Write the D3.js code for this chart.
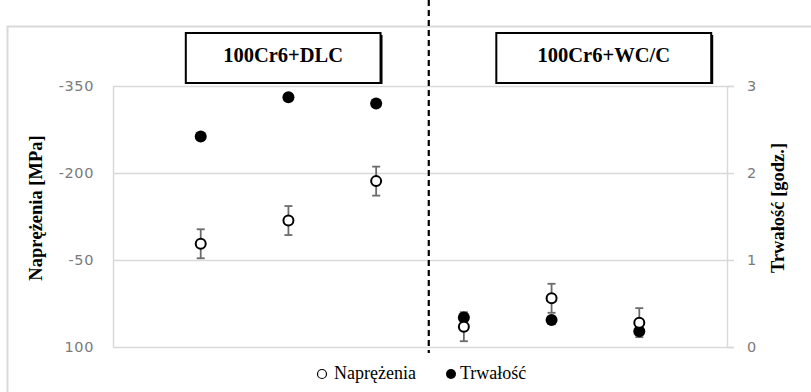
<!DOCTYPE html>
<html>
<head>
<meta charset="utf-8">
<script src="https://cdn.jsdelivr.net/npm/d3@7"></script>
<style>
  html, body { margin: 0; padding: 0; background: #fff; }
  svg { display: block; }
</style>
</head>
<body>
<script>
// Sample positions along the x axis (three per coating)
const samples = [1, 2, 3, 4, 5, 6];
// Residual stress [MPa] (left axis, negative = compressive)
const stress = [-78, -118, -186, 65, 16, 58];
const stressErr = [25, 25, 25, 25, 25, 25];
// Durability [hours] (right axis)
const durability = [2.42, 2.87, 2.80, 0.34, 0.31, 0.18];
// Axis ticks
const stressTicks = [-350, -200, -50, 100];
const durabilityTicks = [0, 1, 2, 3];
// Coating groups: label and x-extent of the heading box
const groups = ["100Cr6+DLC", "100Cr6+WC/C"];
const groupBoxes = [[0.83, 3.05], [4.37, 6.82]];
const dividerAt = 3.6;
const legendItems = ["Naprężenia", "Trwałość"];

const W = 811, H = 392;
const svg = d3.select("body").append("svg").attr("width", W).attr("height", H);

const x = d3.scaleLinear().domain([0, 7]).range([113, 727]);
const yL = d3.scaleLinear().domain([100, -350]).range([347, 86]);
const yR = d3.scaleLinear().domain([0, 3]).range([347, 86]);

const serif = "'Liberation Serif', 'Times New Roman', serif";
const sans = "'DejaVu Sans', Verdana, sans-serif";
const grid = "#d9d9d9";
const tickCol = "#7a7a7a";
const plainInt = d => String(d);   // keeps an ASCII hyphen for negatives

// Chart frame
svg.append("path")
  .attr("d", `M7.5,${H} V26.5 H${W}`)
  .attr("fill", "none").attr("stroke", grid).attr("stroke-width", 2);

// Gridlines
svg.append("g").selectAll("line").data(stressTicks).join("line")
  .attr("x1", x(0)).attr("x2", x(7))
  .attr("y1", d => Math.round(yL(d)) + 0.5).attr("y2", d => Math.round(yL(d)) + 0.5)
  .attr("stroke", grid).attr("stroke-width", 1.5);

// Left axis
const gL = svg.append("g").attr("transform", `translate(${x(0)},0)`)
  .call(d3.axisLeft(yL).tickValues(stressTicks).tickFormat(plainInt).tickSize(0).tickPadding(19));
gL.select(".domain").attr("stroke", grid).attr("stroke-width", 1.5);
gL.selectAll("text").attr("font-family", sans).attr("font-size", 14.5)
  .attr("fill", tickCol).attr("letter-spacing", 0.6);

// Right axis
const gR = svg.append("g").attr("transform", `translate(${x(7)},0)`)
  .call(d3.axisRight(yR).tickValues(durabilityTicks).tickFormat(plainInt).tickSize(7).tickPadding(13));
gR.select(".domain").attr("stroke", grid).attr("stroke-width", 1.5);
gR.selectAll(".tick line").attr("stroke", grid).attr("stroke-width", 1.5);
gR.selectAll("text").attr("font-family", sans).attr("font-size", 14.5).attr("fill", tickCol);

// Axis titles
svg.append("text")
  .attr("transform", `translate(42,208) rotate(-90)`)
  .attr("text-anchor", "middle")
  .attr("font-family", serif).attr("font-weight", "bold").attr("font-size", 18.5)
  .text("Naprężenia [MPa]");
svg.append("text")
  .attr("transform", `translate(784,208) rotate(-90)`)
  .attr("text-anchor", "middle")
  .attr("font-family", serif).attr("font-weight", "bold").attr("font-size", 18.5)
  .text("Trwałość [godz.]");

// Divider between coatings
svg.append("line")
  .attr("x1", x(dividerAt)).attr("x2", x(dividerAt))
  .attr("y1", 0).attr("y2", 353)
  .attr("stroke", "#000").attr("stroke-width", 2.2).attr("stroke-dasharray", "6,4");

// Coating heading boxes
const boxes = svg.append("g").selectAll("g").data(groups).join("g");
boxes.append("rect")
  .attr("x", (d, i) => x(groupBoxes[i][0]) + 2).attr("y", 35)
  .attr("width", (d, i) => x(groupBoxes[i][1]) - x(groupBoxes[i][0])).attr("height", 49)
  .attr("fill", "#000");
boxes.append("rect")
  .attr("x", (d, i) => x(groupBoxes[i][0])).attr("y", 33)
  .attr("width", (d, i) => x(groupBoxes[i][1]) - x(groupBoxes[i][0])).attr("height", 50)
  .attr("fill", "#fff").attr("stroke", "#000").attr("stroke-width", 2);
boxes.append("text")
  .attr("x", (d, i) => (x(groupBoxes[i][0]) + x(groupBoxes[i][1])) / 2)
  .attr("y", 62)
  .attr("text-anchor", "middle")
  .attr("font-family", serif).attr("font-weight", "bold").attr("font-size", 20.5)
  .text(d => d);

// Error bars on stress
const eb = svg.append("g").attr("stroke", "#6b6b6b").attr("stroke-width", 1.8);
samples.forEach((s, i) => {
  const cx = x(s), y0 = yL(stress[i] - stressErr[i]), y1 = yL(stress[i] + stressErr[i]);
  eb.append("line").attr("x1", cx).attr("x2", cx).attr("y1", y0).attr("y2", y1);
  eb.append("line").attr("x1", cx - 4).attr("x2", cx + 4).attr("y1", y0).attr("y2", y0);
  eb.append("line").attr("x1", cx - 4).attr("x2", cx + 4).attr("y1", y1).attr("y2", y1);
});

// Durability points (filled)
svg.append("g").selectAll("circle").data(samples).join("circle")
  .attr("cx", d => x(d)).attr("cy", (d, i) => yR(durability[i]))
  .attr("r", 6).attr("fill", "#000");

// Stress points (open)
svg.append("g").selectAll("circle").data(samples).join("circle")
  .attr("cx", d => x(d)).attr("cy", (d, i) => yL(stress[i]))
  .attr("r", 5).attr("fill", "#fff").attr("stroke", "#000").attr("stroke-width", 2);

// Legend
const lg = svg.append("g");
lg.append("circle").attr("cx", 322).attr("cy", 374).attr("r", 4.5)
  .attr("fill", "#fff").attr("stroke", "#000").attr("stroke-width", 1.2);
lg.append("text").attr("x", 334).attr("y", 379)
  .attr("font-family", serif).attr("font-size", 18).text(legendItems[0]);
lg.append("circle").attr("cx", 451).attr("cy", 374).attr("r", 5).attr("fill", "#000");
lg.append("text").attr("x", 460).attr("y", 379)
  .attr("font-family", serif).attr("font-size", 18).text(legendItems[1]);
</script>
</body>
</html>
